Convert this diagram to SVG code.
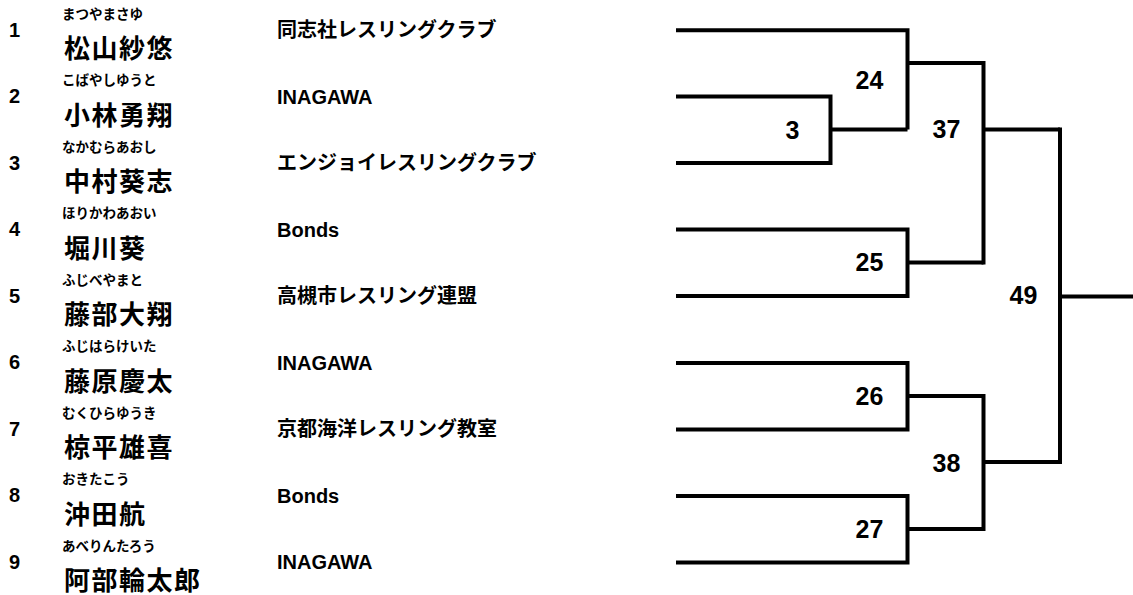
<svg xmlns="http://www.w3.org/2000/svg" width="1133" height="595" viewBox="0 0 1133 595">
<style>
text{font-family:"Liberation Sans","Noto Sans CJK JP",sans-serif;font-weight:bold;fill:#000}
.no{font-size:20px}
.kana{font-size:13.5px}
.name{font-size:26px;letter-spacing:1.5px}
.team{font-size:20px}
.score{font-size:25px;text-anchor:middle;dominant-baseline:central}
.ln{fill:none;stroke:#000;stroke-width:4;stroke-linejoin:miter;stroke-linecap:butt}
</style>
<rect width="1133" height="595" fill="#fff"/>
<g id="p1" transform="translate(0,0)"><text class="no" x="9" y="36.7">1</text><text class="kana" x="62" y="18.5">まつやまさゆ</text><text class="name" x="64" y="58">松山紗悠</text><text class="team" x="277" y="37">同志社レスリングクラブ</text></g>
<g id="p2" transform="translate(0,66.5)"><text class="no" x="9" y="36.7">2</text><text class="kana" x="62" y="18.5">こばやしゆうと</text><text class="name" x="64" y="58">小林勇翔</text><text class="team" x="277" y="37">INAGAWA</text></g>
<g id="p3" transform="translate(0,133)"><text class="no" x="9" y="36.7">3</text><text class="kana" x="62" y="18.5">なかむらあおし</text><text class="name" x="64" y="58">中村葵志</text><text class="team" x="277" y="37">エンジョイレスリングクラブ</text></g>
<g id="p4" transform="translate(0,199.5)"><text class="no" x="9" y="36.7">4</text><text class="kana" x="62" y="18.5">ほりかわあおい</text><text class="name" x="64" y="58">堀川葵</text><text class="team" x="277" y="37">Bonds</text></g>
<g id="p5" transform="translate(0,266)"><text class="no" x="9" y="36.7">5</text><text class="kana" x="62" y="18.5">ふじべやまと</text><text class="name" x="64" y="58">藤部大翔</text><text class="team" x="277" y="37">高槻市レスリング連盟</text></g>
<g id="p6" transform="translate(0,332.5)"><text class="no" x="9" y="36.7">6</text><text class="kana" x="62" y="18.5">ふじはらけいた</text><text class="name" x="64" y="58">藤原慶太</text><text class="team" x="277" y="37">INAGAWA</text></g>
<g id="p7" transform="translate(0,399)"><text class="no" x="9" y="36.7">7</text><text class="kana" x="62" y="18.5">むくひらゆうき</text><text class="name" x="64" y="58">椋平雄喜</text><text class="team" x="277" y="37">京都海洋レスリング教室</text></g>
<g id="p8" transform="translate(0,465.5)"><text class="no" x="9" y="36.7">8</text><text class="kana" x="62" y="18.5">おきたこう</text><text class="name" x="64" y="58">沖田航</text><text class="team" x="277" y="37">Bonds</text></g>
<g id="p9" transform="translate(0,532)"><text class="no" x="9" y="36.7">9</text><text class="kana" x="62" y="18.5">あべりんたろう</text><text class="name" x="64" y="58">阿部輪太郎</text><text class="team" x="277" y="37">INAGAWA</text></g>
<g id="connectors">
<polyline class="ln" points="676,96.5 830.5,96.5 830.5,163 676,163"/>
<line class="ln" x1="830.5" y1="129.5" x2="907.5" y2="129.5"/>
<polyline class="ln" points="676,30.3 907.5,30.3 907.5,129.5"/>
<line class="ln" x1="907.5" y1="63" x2="983.5" y2="63"/>
<polyline class="ln" points="676,229.5 907.5,229.5 907.5,296 676,296"/>
<line class="ln" x1="907.5" y1="262.5" x2="983.5" y2="262.5"/>
<line class="ln" x1="983.5" y1="61" x2="983.5" y2="264.5"/>
<line class="ln" x1="983.5" y1="129.5" x2="1060" y2="129.5"/>
<polyline class="ln" points="676,363 907.5,363 907.5,429.5 676,429.5"/>
<line class="ln" x1="907.5" y1="396" x2="983.5" y2="396"/>
<polyline class="ln" points="676,496 907.5,496 907.5,562.5 676,562.5"/>
<line class="ln" x1="907.5" y1="529" x2="983.5" y2="529"/>
<line class="ln" x1="983.5" y1="394" x2="983.5" y2="531"/>
<line class="ln" x1="983.5" y1="462" x2="1060" y2="462"/>
<line class="ln" x1="1060" y1="127.5" x2="1060" y2="464"/>
<line class="ln" x1="1060" y1="296.5" x2="1133" y2="296.5"/>
</g>
<g id="scores">
<text class="score" x="792.5" y="130">3</text>
<text class="score" x="869.5" y="80">24</text>
<text class="score" x="869.5" y="261.7">25</text>
<text class="score" x="869.5" y="395.5">26</text>
<text class="score" x="869.5" y="529">27</text>
<text class="score" x="946.5" y="129">37</text>
<text class="score" x="946.5" y="462.7">38</text>
<text class="score" x="1023.5" y="295">49</text>
</g>
</svg>
